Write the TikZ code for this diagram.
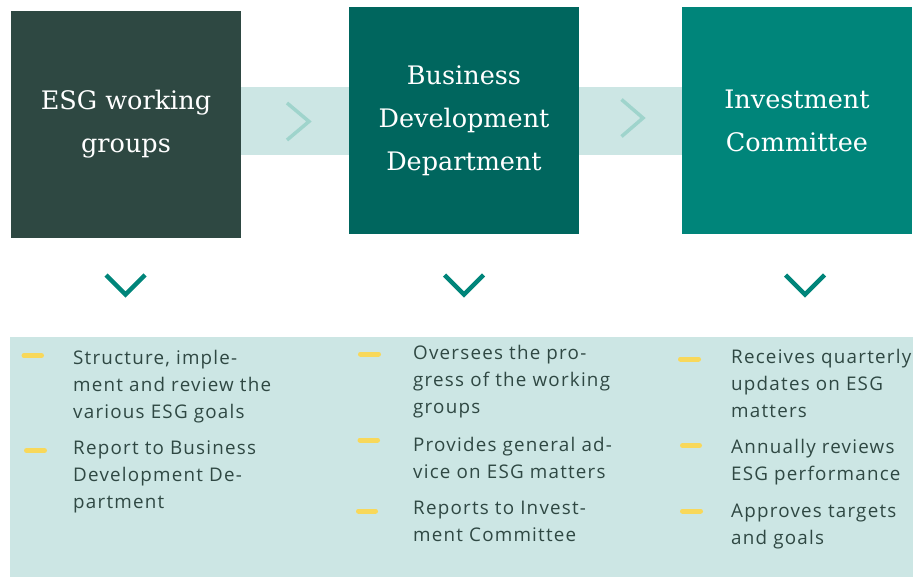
\documentclass[tikz,border=0pt]{standalone}
\usepackage{fontspec}
\setmainfont{Open Sans}[LetterSpace=6.5]
\newfontfamily\slabfont{DejaVu Serif}
\usetikzlibrary{positioning,calc}

\definecolor{esgdark}{HTML}{2E4842}
\definecolor{bizgreen}{HTML}{00665E}
\definecolor{invteal}{HTML}{00857A}
\definecolor{paleteal}{HTML}{CCE6E4}
\definecolor{chevlight}{HTML}{9FD4CC}
\definecolor{dashyellow}{HTML}{F8D85A}
\definecolor{bodytext}{HTML}{2F4843}

\tikzset{
  headbox/.style={minimum width=230pt, minimum height=227pt, inner sep=0pt,
    text=white, align=center, font=\slabfont\fontsize{25.5}{43}\selectfont},
  itemtext/.style={anchor=north west, inner sep=0pt, align=left,
    text=bodytext, font=\fontsize{18.8}{27}\selectfont},
  yellowdash/.style={dashyellow, line width=5pt, line cap=round},
  rightchev/.style={chevlight, line width=3.5pt},
  downchev/.style={invteal, line width=4.5pt}
}

\begin{document}
\begin{tikzpicture}[x=1pt,y=-1pt]
\useasboundingbox (0,0) rectangle (913,577);

% Banda que une las cajas
\fill [paleteal] (241,87) rectangle (682,155);

% Cajas de cabecera
\node [headbox, fill=esgdark] (esg) at (126,124.5) {ESG working\\groups};
\node [headbox, fill=bizgreen] (bdd) at (464,120.5) {Business\\Development\\Department};
\node [headbox, fill=invteal] (invc) at (797,120.5) {Investment\\Committee};

% Flechas entre cajas
\coordinate (c1) at ($(esg.east)!0.5!(bdd.west)$);
\coordinate (c2) at ($(bdd.east)!0.5!(invc.west)$);
\draw [rightchev] ([shift={(-8,-19.5)}]c1) -- ([shift={(14,-1)}]c1) -- ([shift={(-8,17.5)}]c1);
\draw [rightchev] ([shift={(-9,-21)}]c2) -- ([shift={(12.5,-2.5)}]c2) -- ([shift={(-9,16)}]c2);

% Flechas hacia abajo
\foreach \cx in {125.5,464,805}
  \draw [downchev] (\cx-19.5,275) -- (\cx,294.5) -- (\cx+19.5,275);

% Panel inferior
\fill [paleteal] (10,337) rectangle (913,577);

% Columna ESG
\draw [yellowdash] (24,355.5) -- (41.5,355.5);
\node [itemtext] (esg-a) at (73,350) {Structure, imple-\\ment and review the\\various ESG goals};
\draw [yellowdash] (26.5,450.5) -- (44.5,450.5);
\node [itemtext] (esg-b) at (73,441) {Report to Business\\Development De-\\partment};

% Columna BDD
\draw [yellowdash] (360.5,354) -- (378.5,354);
\node [itemtext] (bdd-a) at (413,345) {Oversees the pro-\\gress of the working\\groups};
\draw [yellowdash] (360,440) -- (377.5,440);
\node [itemtext] (bdd-b) at (413,437) {Provides general ad-\\vice on ESG matters};
\draw [yellowdash] (358.5,511) -- (375.5,511);
\node [itemtext] (bdd-c) at (413,501) {Reports to Invest-\\ment Committee};

% Columna IC
\draw [yellowdash] (680.5,359) -- (698.5,359);
\node [itemtext] (invc-a) at (731,349) {Receives quarterly\\updates on ESG\\matters};
\draw [yellowdash] (682.5,445.5) -- (699.5,445.5);
\node [itemtext] (invc-b) at (731,439) {Annually reviews\\ESG performance};
\draw [yellowdash] (682.5,511) -- (700.5,511);
\node [itemtext] (invc-c) at (731,504) {Approves targets\\and goals};
\end{tikzpicture}
\end{document}
